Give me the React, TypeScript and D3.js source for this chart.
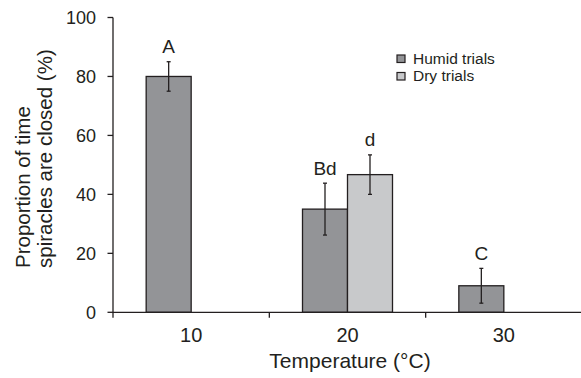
//@ts-nocheck
import * as d3 from "d3";
import { useEffect, useRef } from "react";

// values
const categories = ["10", "20", "30"];
const humidValues = [80, 35, 9];
const humidErrors = [5, 8.8, 5.9];
const humidLetters = ["A", "Bd", "C"];
const dryValues = [null, 46.7, null];
const dryErrors = [null, 6.7, null];
const dryLetters = [null, "d", null];
const yTicks = [0, 20, 40, 60, 80, 100];
const seriesNames = ["Humid trials", "Dry trials"];

const FONT = "'Liberation Sans', Arial, Helvetica, sans-serif";
const COLORS = ["#939497", "#c8c9cb"];
const INK = "#231f20";

const App = () => {
  const chartRef = useRef(null);

  useEffect(() => {
    chartRef.current.innerHTML = "";
    const svg = d3.select(chartRef.current);

    const x = d3.scaleBand().domain(categories).range([113, 582]).padding(0);
    const y = d3.scaleLinear().domain([0, 100]).range([312.3, 17.5]);
    const barW = 45;

    // y axis
    svg.append("line")
      .attr("x1", 113).attr("x2", 113)
      .attr("y1", y(0)).attr("y2", y(100))
      .attr("stroke", INK).attr("stroke-width", 1.3);
    yTicks.forEach(t => {
      svg.append("line")
        .attr("x1", 107.5).attr("x2", 113)
        .attr("y1", y(t)).attr("y2", y(t))
        .attr("stroke", INK).attr("stroke-width", 1.3);
      svg.append("text")
        .attr("x", 96).attr("y", y(t))
        .attr("dy", "0.36em")
        .attr("text-anchor", "end")
        .style("font-family", FONT).style("font-size", "18px")
        .attr("fill", INK)
        .text(t);
    });

    // bars: humid left of center, dry right of center
    const groups = [
      { values: humidValues, errors: humidErrors, letters: humidLetters, off: -barW, color: COLORS[0] },
      { values: dryValues, errors: dryErrors, letters: dryLetters, off: 0, color: COLORS[1] }
    ];
    groups.forEach(g => {
      categories.forEach((c, i) => {
        const v = g.values[i];
        if (v == null) return;
        const cx = x(c) + x.bandwidth() / 2 + g.off;
        svg.append("rect")
          .attr("x", cx).attr("y", y(v))
          .attr("width", barW).attr("height", y(0) - y(v))
          .attr("fill", g.color).attr("stroke", INK).attr("stroke-width", 1.3);
        const mx = cx + barW / 2;
        const e = g.errors[i];
        svg.append("line")
          .attr("x1", mx).attr("x2", mx)
          .attr("y1", y(v - e)).attr("y2", y(v + e))
          .attr("stroke", INK).attr("stroke-width", 1.3);
        [v - e, v + e].forEach(w => {
          svg.append("line")
            .attr("x1", mx - 2).attr("x2", mx + 2)
            .attr("y1", y(w)).attr("y2", y(w))
            .attr("stroke", INK).attr("stroke-width", 1.3);
        });
        svg.append("text")
          .attr("x", mx).attr("y", y(v + e) - 8.5)
          .attr("text-anchor", "middle")
          .style("font-family", FONT).style("font-size", "19px")
          .attr("fill", INK)
          .text(g.letters[i]);
      });
    });

    // x axis
    svg.append("line")
      .attr("x1", 113).attr("x2", 582)
      .attr("y1", y(0)).attr("y2", y(0))
      .attr("stroke", INK).attr("stroke-width", 1.3);
    categories.forEach(c => {
      svg.append("line")
        .attr("x1", x(c)).attr("x2", x(c))
        .attr("y1", y(0)).attr("y2", y(0) + 5.5)
        .attr("stroke", INK).attr("stroke-width", 1.3);
      svg.append("text")
        .attr("x", x(c) + x.bandwidth() / 2).attr("y", 341.7)
        .attr("text-anchor", "middle")
        .style("font-family", FONT).style("font-size", "20px")
        .attr("fill", INK)
        .text(c);
    });

    // axis titles
    svg.append("text")
      .attr("x", 350).attr("y", 368)
      .attr("text-anchor", "middle")
      .style("font-family", FONT).style("font-size", "21px")
      .attr("fill", INK)
      .text("Temperature (\u00B0C)");
    const yl = svg.append("text")
      .attr("transform", "translate(30,268) rotate(-90)")
      .attr("text-anchor", "start")
      .style("font-family", FONT).style("font-size", "20.5px")
      .attr("fill", INK);
    yl.append("tspan").attr("x", 0).attr("y", 0).text("Proportion of time");
    yl.append("tspan").attr("x", 0).attr("y", 22).text("spiracles are closed (%)");

    // legend
    seriesNames.forEach((s, i) => {
      svg.append("rect")
        .attr("x", 397).attr("y", 55 + i * 17.5)
        .attr("width", 8).attr("height", 7.5)
        .attr("fill", COLORS[i]).attr("stroke", INK).attr("stroke-width", 1.2);
      svg.append("text")
        .attr("x", 413).attr("y", 63.5 + i * 17)
        .style("font-family", FONT).style("font-size", "15.5px")
        .attr("fill", INK)
        .text(s);
    });
  }, []);

  return (
    <div>
      <svg ref={chartRef} width={581} height={378}
        style={{ position: "absolute", left: 0, top: 0, background: "#fff" }}></svg>
    </div>
  );
};

export default App;
